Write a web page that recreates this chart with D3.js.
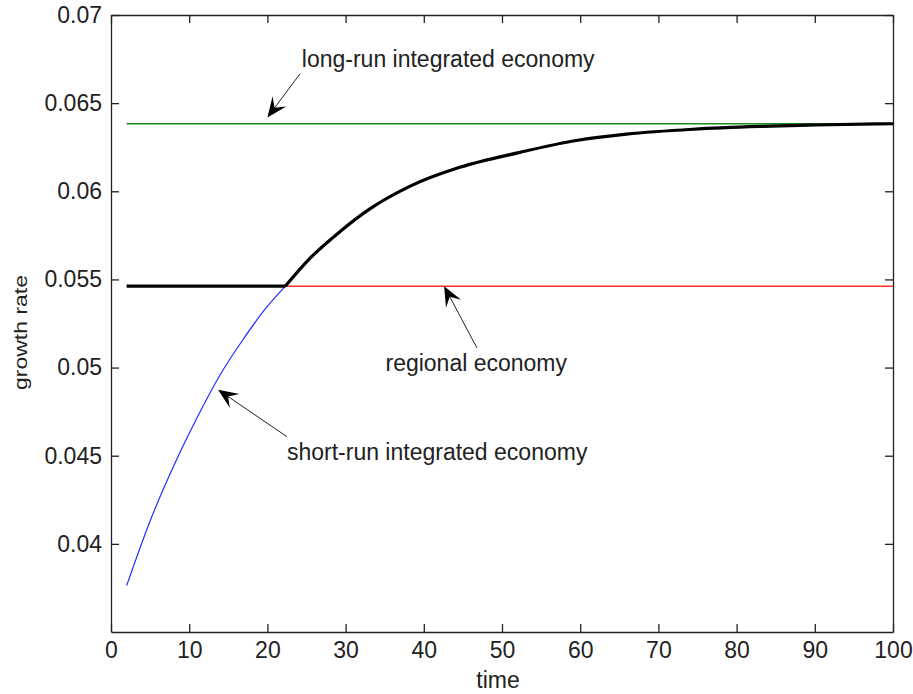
<!DOCTYPE html>
<html lang="en">
<head>
<meta charset="UTF-8">
<title>growth rate</title>
<script src="https://d3js.org/d3.v7.min.js"></script>
<style>
  body { margin: 0; padding: 0; background: #fff; }
  svg { display: block; }
  text { font-family: "Liberation Sans", Arial, sans-serif; fill: #222; }
</style>
</head>
<body>
<svg id="chart"></svg>
<script>
// data
let xTicks = [0, 10, 20, 30, 40, 50, 60, 70, 80, 90, 100];
let yTicks = [0.04, 0.045, 0.05, 0.055, 0.06, 0.065, 0.07];
let yTickLabels = ["0.04", "0.045", "0.05", "0.055", "0.06", "0.065", "0.07"];

// black: actual path, flat at the regional level then the transition
let flatT = [2, 22.3];
let flatG = [0.05462, 0.05462];
let transT = [22.3, 25.4, 29.3, 33.1, 38.2, 44.6, 52.3, 59.5, 65.9, 74.4, 83, 90, 100];
let transG = [0.05462, 0.05618, 0.05772, 0.059, 0.06028, 0.06136, 0.06221, 0.06288, 0.06324, 0.06352, 0.06368, 0.06376, 0.06383];

// blue: short-run integrated economy
let shortT = [2, 5, 8, 11, 13.9, 16.9, 19.5, 22.3];
let shortG = [0.03763, 0.0413, 0.0444, 0.04715, 0.04955, 0.0516, 0.0532, 0.05462];

// red: regional economy, green: long-run integrated economy
let regionalT = [22.3, 100];
let regionalG = [0.05462, 0.05462];
let longRunT = [2, 100];
let longRunG = [0.06383, 0.06383];

// annotations: text, text position, arrow tail, arrow tip (data coords)
let notes = [
  {txt: "long-run integrated economy", tx: 24.4, ty: 0.06706, x0: 24.2, y0: 0.06668, x1: 20.0, y1: 0.06419},
  {txt: "regional economy", tx: 35.1, ty: 0.04978, x0: 46.8, y0: 0.05111, x1: 42.6, y1: 0.05462},
  {txt: "short-run integrated economy", tx: 22.5, ty: 0.04477, x0: 22.5, y0: 0.04608, x1: 13.7, y1: 0.04874}
];

let W = 913, H = 694;
let m = {left: 111, right: 20, top: 15, bottom: 62};
let w = W - m.left - m.right;
let h = H - m.top - m.bottom;

let svg = d3.select("#chart").attr("width", W).attr("height", H);
let g = svg.append("g").attr("transform", `translate(${m.left},${m.top})`);

let x = d3.scaleLinear().domain([0, 100]).range([0, w]);
let y = d3.scaleLinear().domain([0.035, 0.07]).range([h, 0]);

// axes with inward ticks, box on all sides
let fmtY = d => yTickLabels[yTicks.indexOf(d)];
let axB = g.append("g").attr("transform", `translate(0,${h})`)
  .call(d3.axisBottom(x).tickValues(xTicks).tickSizeInner(-8).tickSizeOuter(0).tickPadding(10));
let axL = g.append("g")
  .call(d3.axisLeft(y).tickValues(yTicks).tickFormat(fmtY).tickSizeInner(-8).tickSizeOuter(0).tickPadding(9));
let axT = g.append("g")
  .call(d3.axisTop(x).tickValues(xTicks).tickSizeInner(-8).tickSizeOuter(0).tickFormat(""));
let axR = g.append("g").attr("transform", `translate(${w},0)`)
  .call(d3.axisRight(y).tickValues(yTicks).tickSizeInner(-8).tickSizeOuter(0).tickFormat(""));

[axB, axL, axT, axR].forEach(a => {
  a.select(".domain").attr("stroke", "#222").attr("stroke-width", 1.3);
  a.selectAll(".tick line").attr("stroke", "#222").attr("stroke-width", 1.3);
  a.selectAll(".tick text").attr("font-size", 23).attr("fill", "#222")
    .attr("font-family", "'Liberation Sans', Arial, sans-serif");
});

let line = d3.line().x(d => x(d[0])).y(d => y(d[1]));
let smooth = d3.line().x(d => x(d[0])).y(d => y(d[1])).curve(d3.curveMonotoneX);

let pairs = (ts, vs) => ts.map((t, i) => [t, vs[i]]);

g.append("path").attr("d", line(pairs(longRunT, longRunG)))
  .attr("fill", "none").attr("stroke", "#1a8a1a").attr("stroke-width", 1.5);
g.append("path").attr("d", line(pairs(regionalT, regionalG)))
  .attr("fill", "none").attr("stroke", "#ff2a2a").attr("stroke-width", 1.5);
g.append("path").attr("d", smooth(pairs(shortT, shortG)))
  .attr("fill", "none").attr("stroke", "#1f2fff").attr("stroke-width", 1.2);
g.append("path").attr("d", line(pairs(flatT, flatG)))
  .attr("fill", "none").attr("stroke", "#000").attr("stroke-width", 3.2);
g.append("path").attr("d", smooth(pairs(transT, transG)))
  .attr("fill", "none").attr("stroke", "#000").attr("stroke-width", 3.2);

// arrows with notched heads
notes.forEach(n => {
  let ax = x(n.x0), ay = y(n.y0), bx = x(n.x1), by = y(n.y1);
  let dx = bx - ax, dy = by - ay, len = Math.hypot(dx, dy);
  let ux = dx / len, uy = dy / len, px = -uy, py = ux;
  let L = 20, hw = 8.5;
  g.append("line")
    .attr("x1", ax).attr("y1", ay).attr("x2", bx - ux * 10).attr("y2", by - uy * 10)
    .attr("stroke", "#222").attr("stroke-width", 1);
  let pts = [
    [bx, by],
    [bx - ux * L + px * hw, by - uy * L + py * hw],
    [bx - ux * L * 0.6, by - uy * L * 0.6],
    [bx - ux * L - px * hw, by - uy * L - py * hw]
  ];
  g.append("polygon").attr("points", pts.map(p => p.join(",")).join(" ")).attr("fill", "#000");
  g.append("text").attr("x", x(n.tx)).attr("y", y(n.ty))
    .attr("font-size", 23).text(n.txt);
});

// axis labels
svg.append("text").attr("x", 498).attr("y", 688)
  .attr("text-anchor", "middle").attr("font-size", 23).text("time");
svg.append("text").attr("transform", `translate(27,${m.top + h / 2 + 9}) rotate(-90)`)
  .attr("text-anchor", "middle").attr("font-size", 19).attr("textLength", 115)
  .attr("lengthAdjust", "spacingAndGlyphs").text("growth rate");
</script>
</body>
</html>
